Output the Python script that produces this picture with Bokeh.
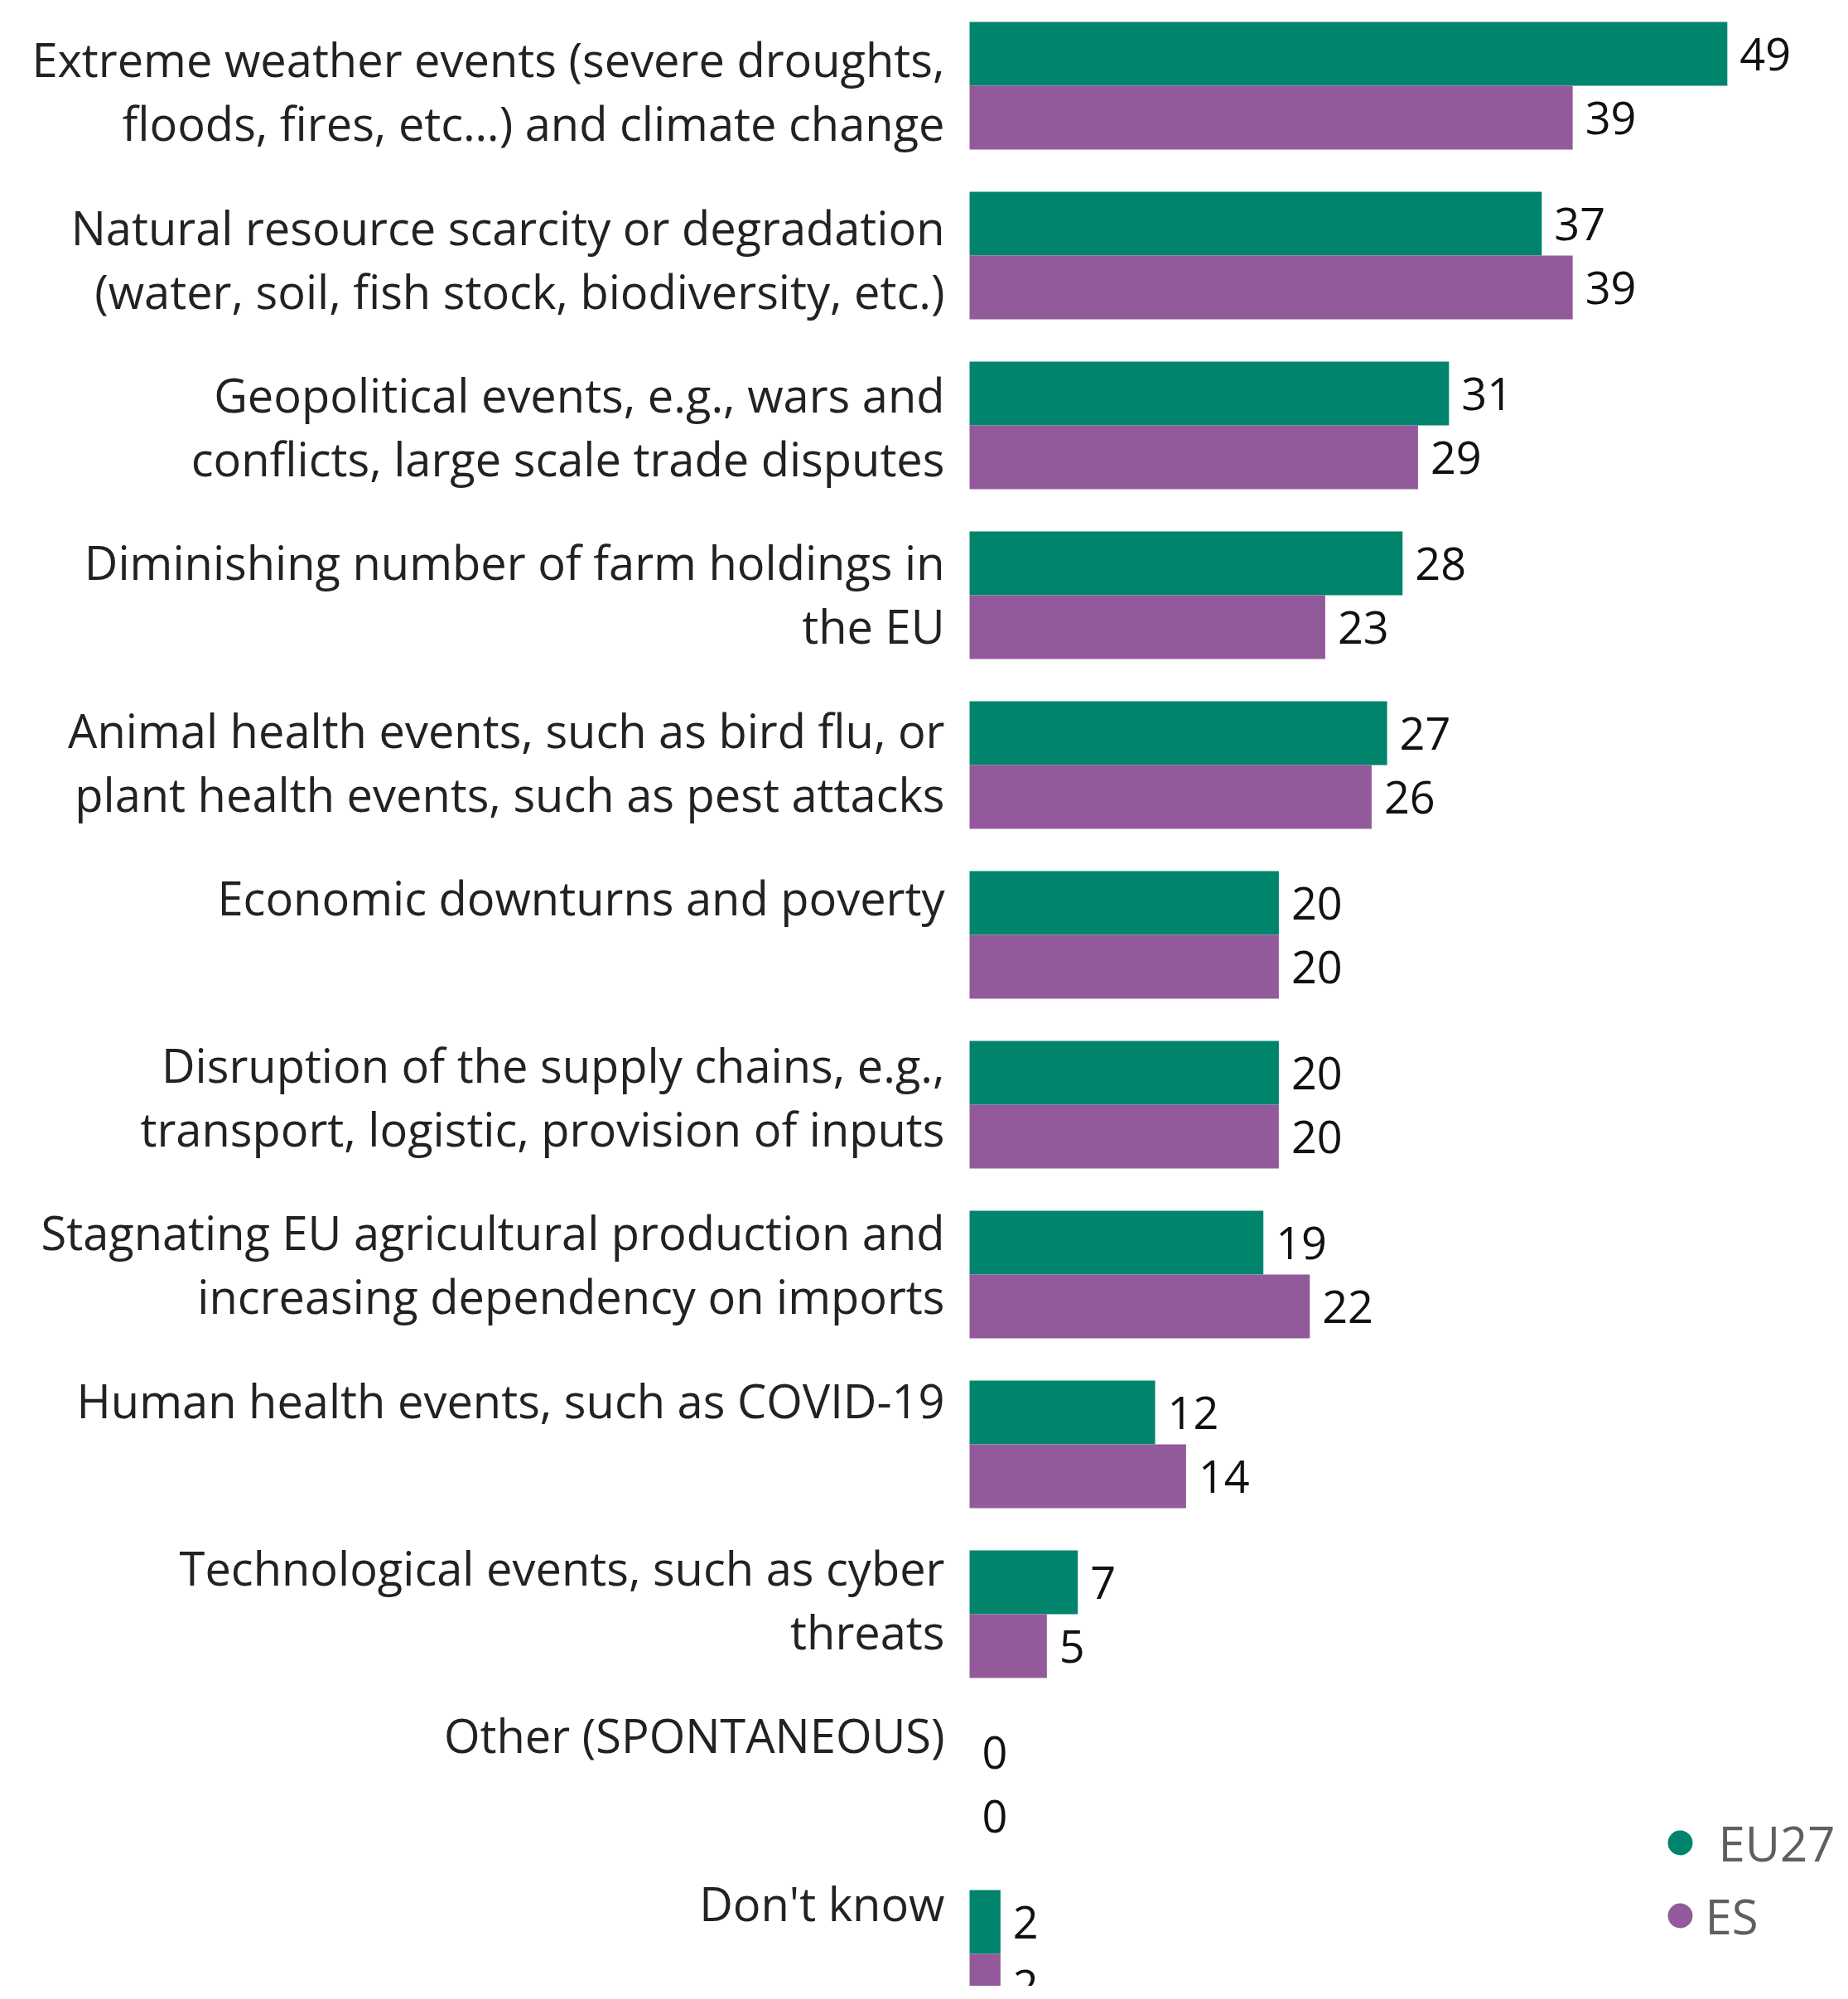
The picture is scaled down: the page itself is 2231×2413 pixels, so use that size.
from bokeh.plotting import figure
from bokeh.models import Range1d, ColumnDataSource
from bokeh.embed import file_html
from bokeh.resources import INLINE
from bokeh.core.properties import value

# ---- data ----
labels_line1 = [
    "Extreme weather events (severe droughts,",
    "Natural resource scarcity or degradation",
    "Geopolitical events, e.g., wars and",
    "Diminishing number of farm holdings in",
    "Animal health events, such as bird flu, or",
    "Economic downturns and poverty",
    "Disruption of the supply chains, e.g.,",
    "Stagnating EU agricultural production and",
    "Human health events, such as COVID-19",
    "Technological events, such as cyber",
    "Other (SPONTANEOUS)",
    "Don't know",
]
labels_line2 = [
    "floods, fires, etc\u2026) and climate change",
    "(water, soil, fish stock, biodiversity, etc.)",
    "conflicts, large scale trade disputes",
    "the EU",
    "plant health events, such as pest attacks",
    "",
    "transport, logistic, provision of inputs",
    "increasing dependency on imports",
    "",
    "threats",
    "",
    "",
]
eu27 = [49, 37, 31, 28, 27, 20, 20, 19, 12, 7, 0, 2]
es = [39, 39, 29, 23, 26, 20, 20, 22, 14, 5, 0, 2]
series_names = ["EU27", "ES"]

GREEN = "#00846C"
PURPLE = "#935A9B"
FONT = "Open Sans"

W, H = 2215, 2397
PX_PER_UNIT = 18.67       # horizontal scale
X0_PX = 1170              # pixel of value 0
GROUP_PX = 205            # vertical pitch of groups
TOP_PX = 103              # center of first group
BAR_PX = 77               # bar thickness

n = len(eu27)
idx = list(range(n))
bh = BAR_PX / GROUP_PX

p = figure(width=W, height=H,
           x_range=Range1d(-X0_PX / PX_PER_UNIT, (W - X0_PX) / PX_PER_UNIT),
           y_range=Range1d((H - TOP_PX) / GROUP_PX, -TOP_PX / GROUP_PX),
           output_backend="svg", toolbar_location=None, min_border=0)
p.axis.visible = False
p.grid.visible = False
p.outline_line_color = None
p.background_fill_color = "white"
p.border_fill_color = "white"

src = ColumnDataSource(dict(
    y_eu=[i - bh / 2 for i in idx],
    y_es=[i + bh / 2 for i in idx],
    eu=eu27, es=es,
    eu_t=[str(v) for v in eu27], es_t=[str(v) for v in es],
))
p.hbar(y="y_eu", right="eu", left=0, height=bh, color=GREEN, line_color=None, source=src)
p.hbar(y="y_es", right="es", left=0, height=bh, color=PURPLE, line_color=None, source=src)

val_kw = dict(text_font=value(FONT), text_font_size="54px", text_color="#111111",
              text_baseline="middle", text_align="left", x_offset=15, source=src)
p.text(x="eu", y="y_eu", text="eu_t", **val_kw)
p.text(x="es", y="y_es", text="es_t", **val_kw)

# category labels (text pitch slightly smaller than bar pitch, as in original)
TXT_PITCH = 202.3
LINE1_PX = 70.8
LINE_GAP = 77
lab_src = ColumnDataSource(dict(
    x=[0] * n,
    y1=[(LINE1_PX + TXT_PITCH * i - TOP_PX) / GROUP_PX for i in idx],
    y2=[(LINE1_PX + TXT_PITCH * i + LINE_GAP - TOP_PX) / GROUP_PX for i in idx],
    t1=labels_line1, t2=labels_line2,
))
lab_kw = dict(text_font=value(FONT), text_font_size="56px", text_color="#222222",
              text_baseline="middle", text_align="right", x_offset=-30, source=lab_src)
p.text(x="x", y="y1", text="t1", **lab_kw)
p.text(x="x", y="y2", text="t2", **lab_kw)

# legend
LEG_X = (2028 - X0_PX) / PX_PER_UNIT
leg_y = [(2224 - TOP_PX) / GROUP_PX, (2312 - TOP_PX) / GROUP_PX]
p.scatter(x=[LEG_X, LEG_X], y=leg_y, size=30, marker="circle",
          color=[GREEN, PURPLE], line_color=None)
p.text(x=[LEG_X, LEG_X], y=leg_y, text=series_names, x_offset=[46, 30],
       text_font=value(FONT), text_font_size="58px", text_color="#5f5f5f",
       text_baseline="middle", text_align="left")

open("out.html", "w").write(file_html(p, INLINE))
